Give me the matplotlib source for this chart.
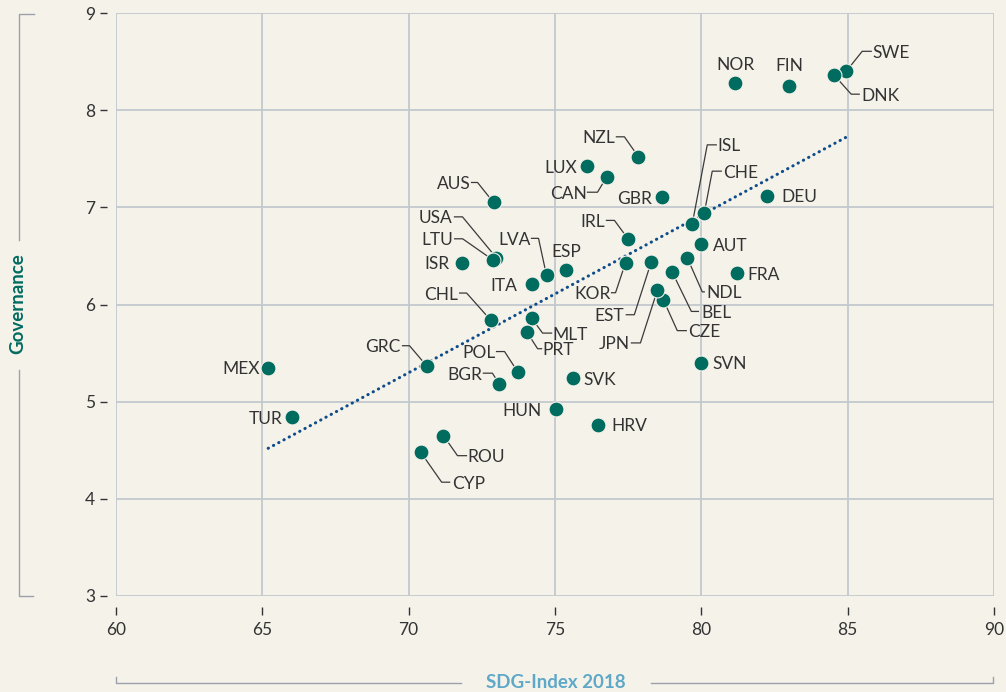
import matplotlib
matplotlib.use("Agg")
import matplotlib.pyplot as plt
from matplotlib.lines import Line2D

# ---------------- data ----------------
countries = ["SWE", "DNK", "NOR", "FIN", "DEU", "FRA", "AUT", "SVN", "ISL", "CHE",
             "NDL", "BEL", "CZE", "JPN", "EST", "KOR", "IRL", "GBR", "NZL", "CAN",
             "LUX", "ESP", "LVA", "ITA", "AUS", "USA", "LTU", "ISR", "CHL", "MLT",
             "PRT", "POL", "BGR", "GRC", "SVK", "HUN", "HRV", "ROU", "CYP", "MEX", "TUR"]
sdg_index = [84.95, 84.54, 81.16, 83.0, 82.25, 81.23, 80.0, 80.0, 79.69, 80.1,
             79.52, 79.01, 78.70, 78.5, 78.29, 77.41, 77.51, 78.67, 77.85, 76.76,
             76.11, 75.39, 74.71, 74.2, 72.9, 73.0, 72.87, 71.81, 72.8, 74.2,
             74.03, 73.72, 73.1, 70.61, 75.6, 75.02, 76.48, 71.19, 70.41, 65.19, 66.0]
governance = [8.40, 8.36, 8.28, 8.25, 7.12, 6.32, 6.62, 5.40, 6.83, 6.94,
              6.48, 6.33, 6.05, 6.15, 6.44, 6.43, 6.67, 7.11, 7.52, 7.31,
              7.43, 6.36, 6.30, 6.21, 7.05, 6.48, 6.46, 6.43, 5.84, 5.86,
              5.72, 5.31, 5.18, 5.37, 5.24, 4.92, 4.76, 4.65, 4.48, 5.35, 4.84]
trend_x = [65.2, 85.0]
trend_y = [4.52, 7.73]
x_ticks = [60, 65, 70, 75, 80, 85, 90]
y_ticks = [3, 4, 5, 6, 7, 8, 9]
x_title = "SDG-Index 2018"
y_title = "Governance"

# ---------------- label layout (pixel offsets, y downward) ----------------
# name: (text_dx, text_dy, ha, elbow) ; elbow = (ex, ey, hx) or None
layout = {
    "AUS": (-23, -20, "right", (-16, -20, -22)),
    "USA": (-44, -41, "right", (-34, -41, -42)),
    "LTU": (-40, -21, "right", (-30, -21, -38)),
    "ISR": (-12, 0, "right", None),
    "CHL": (-33, -27, "right", (-24, -27, -31)),
    "LVA": (-16, -37, "right", (-8, -37, -15)),
    "ESP": (0, -19, "center", None),
    "ITA": (-14, 0, "right", None),
    "NZL": (-23, -20, "right", (-14, -20, -22)),
    "LUX": (-10, 1, "right", None),
    "CAN": (-20, 15, "right", (-9, 15, -19)),
    "GBR": (-10, 1, "right", None),
    "IRL": (-23, -19, "right", (-14, -19, -22)),
    "KOR": (-15, 30, "right", (-10, 30, -14)),
    "EST": (-27, 53, "right", (-17, 53, -25)),
    "JPN": (-28, 53, "right", (-17, 53, -26)),
    "CZE": (25, 31, "left", (14, 31, 23)),
    "BEL": (29, 39, "left", (19, 39, 26)),
    "NDL": (19, 34, "left", (15, 34, 17)),
    "AUT": (12, 0, "left", None),
    "FRA": (10, 0, "left", None),
    "ISL": (25, -79, "left", (15, -79, 24)),
    "CHE": (19, -42, "left", (8, -42, 17)),
    "DEU": (14, 0, "left", None),
    "SWE": (26, -20, "left", (16, -20, 25)),
    "DNK": (27, 19, "left", (17, 19, 25)),
    "NOR": (0, -19, "center", None),
    "FIN": (0, -21, "center", None),
    "SVN": (11, 0, "left", None),
    "HRV": (13, 0, "left", None),
    "SVK": (11, 0, "left", None),
    "HUN": (-14, 0, "right", None),
    "MLT": (21, 15, "left", (11, 15, 20)),
    "PRT": (16, 17, "left", (11, 17, 15)),
    "POL": (-22, -20, "right", (-13, -20, -21)),
    "BGR": (-17, -11, "right", (-7, -11, -16)),
    "GRC": (-26, -20, "right", (-17, -20, -24)),
    "ROU": (24, 20, "left", (14, 20, 23)),
    "CYP": (31, 30, "left", (21, 30, 29)),
    "MEX": (-8, 0, "right", None),
    "TUR": (-9, 0, "right", None),
}

# ---------------- style ----------------
W, H = 1006, 692
BG = "#f5f2ea"
TEAL = "#006b5f"
GRID = "#c3c8cf"
TXT = "#333333"
plt.rcParams["font.family"] = ["Lato", "DejaVu Sans"]

fig = plt.figure(figsize=(W / 100, H / 100), dpi=100, facecolor=BG)
ax = fig.add_axes([116 / W, 1 - 596 / H, 878 / W, 583 / H], facecolor=BG)
ax.set_xlim(60, 90)
ax.set_ylim(3, 9)
ax.set_xticks(x_ticks)
ax.set_yticks(y_ticks)
ax.grid(True, color=GRID, lw=1.3, zorder=0)
ax.set_axisbelow(True)
for s in ["top", "right"]:
    ax.spines[s].set_visible(False)
ax.spines["left"].set_position(("outward", 6.5))
ax.spines["bottom"].set_position(("outward", 8))
ax.spines["left"].set_visible(False)
ax.spines["bottom"].set_visible(False)
ax.tick_params(axis="y", length=5, width=1, color=TXT, labelcolor=TXT, labelsize=12.5, pad=3.5)
ax.tick_params(axis="x", length=5.5, width=1, color=TXT, labelcolor=TXT, labelsize=12.5, pad=5)

# trend line
ax.plot(trend_x, trend_y, color="#0f4c8a", lw=2.2, linestyle=(0, (0.1, 1.85)),
        dash_capstyle="round", zorder=2)

# leaders & labels
inv = ax.transData.inverted()
for name, x, y in zip(countries, sdg_index, governance):
    tdx, tdy, ha, elbow = layout[name]
    if elbow is not None:
        ex, ey, hx = elbow
        cx, cy = ax.transData.transform((x, y))
        pts = [(cx, cy), (cx + ex, cy - ey), (cx + hx, cy - ey)]
        d = inv.transform(pts)
        ax.plot(d[:, 0], d[:, 1], color="#3a3a3a", lw=0.9, zorder=2, clip_on=False)
    ax.annotate(name, xy=(x, y), xytext=(tdx, -tdy), textcoords="offset pixels",
                ha=ha, va="center_baseline", fontsize=12.5, color=TXT, zorder=4)

ax.scatter(sdg_index, governance, s=115, color=TEAL, edgecolor=BG, linewidth=0.8, zorder=3)

# axis titles with bracket lines
def fl(xs, ys):
    fig.add_artist(Line2D([v / W for v in xs], [1 - v / H for v in ys],
                          transform=fig.transFigure, color="#9aa1aa", lw=1))

fl([34, 19, 19], [14, 14, 240])
fl([19, 19, 33], [370, 596, 596])
fig.text(18 / W, 1 - 304 / H, y_title, rotation=90, ha="center", va="center",
         color=TEAL, fontsize=13.5, fontweight="bold")

fl([116, 116, 461], [677, 683, 683])
fl([651, 993, 993], [683, 683, 677])
fig.text(555.5 / W, 1 - 683 / H, x_title, ha="center", va="center",
         color="#5fa8c8", fontsize=13.5, fontweight="bold")

fig.savefig("out.png", dpi=100, facecolor=BG)
